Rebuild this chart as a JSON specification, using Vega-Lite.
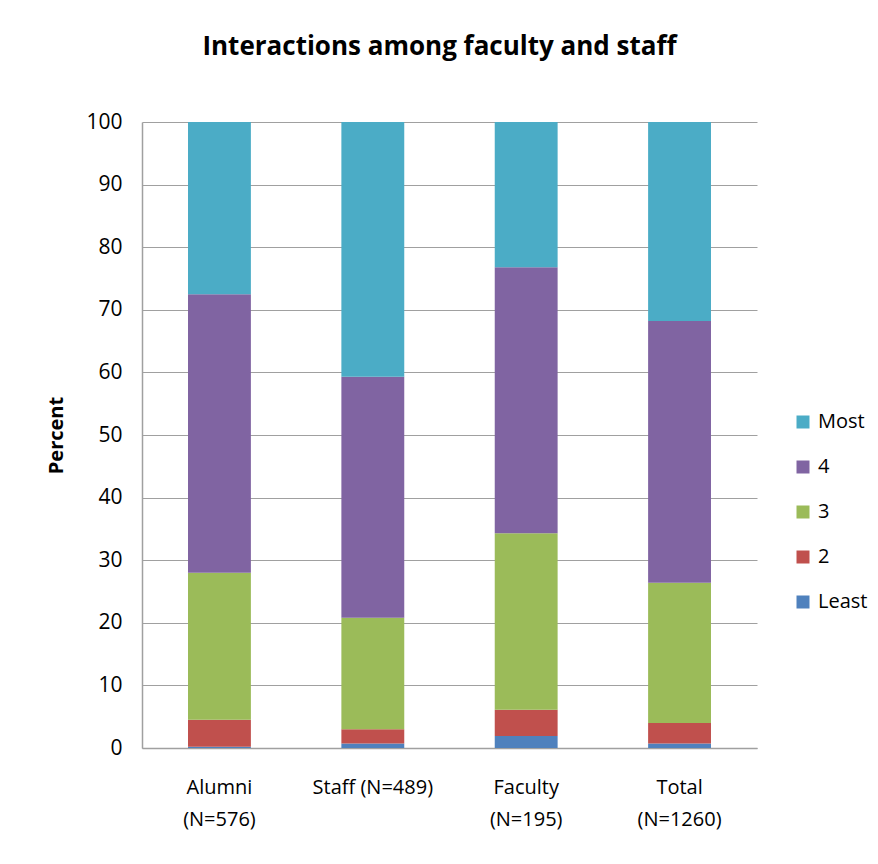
{
  "$schema": "https://vega.github.io/schema/vega-lite/v6.json",
  "autosize": "none",
  "width": 615,
  "height": 626,
  "padding": {"left": 142, "top": 122, "right": 121, "bottom": 116},
  "background": "white",
  "title": {
    "text": "Interactions among faculty and staff",
    "font": "Open Sans",
    "fontSize": 26,
    "fontWeight": "bold",
    "color": "#000000",
    "anchor": "middle",
    "dx": -10,
    "offset": 51
  },
  "data": {
    "values": [
      {"group": "Alumni|(N=576)", "level": "Least", "rank": 1, "percent": 0.2},
      {"group": "Alumni|(N=576)", "level": "2", "rank": 2, "percent": 4.3},
      {"group": "Alumni|(N=576)", "level": "3", "rank": 3, "percent": 23.5},
      {"group": "Alumni|(N=576)", "level": "4", "rank": 4, "percent": 44.5},
      {"group": "Alumni|(N=576)", "level": "Most", "rank": 5, "percent": 27.5},
      {"group": "Staff (N=489)", "level": "Least", "rank": 1, "percent": 0.7},
      {"group": "Staff (N=489)", "level": "2", "rank": 2, "percent": 2.3},
      {"group": "Staff (N=489)", "level": "3", "rank": 3, "percent": 17.8},
      {"group": "Staff (N=489)", "level": "4", "rank": 4, "percent": 38.5},
      {"group": "Staff (N=489)", "level": "Most", "rank": 5, "percent": 40.7},
      {"group": "Faculty|(N=195)", "level": "Least", "rank": 1, "percent": 1.9},
      {"group": "Faculty|(N=195)", "level": "2", "rank": 2, "percent": 4.2},
      {"group": "Faculty|(N=195)", "level": "3", "rank": 3, "percent": 28.2},
      {"group": "Faculty|(N=195)", "level": "4", "rank": 4, "percent": 42.5},
      {"group": "Faculty|(N=195)", "level": "Most", "rank": 5, "percent": 23.2},
      {"group": "Total|(N=1260)", "level": "Least", "rank": 1, "percent": 0.7},
      {"group": "Total|(N=1260)", "level": "2", "rank": 2, "percent": 3.3},
      {"group": "Total|(N=1260)", "level": "3", "rank": 3, "percent": 22.4},
      {"group": "Total|(N=1260)", "level": "4", "rank": 4, "percent": 41.8},
      {"group": "Total|(N=1260)", "level": "Most", "rank": 5, "percent": 31.8}
    ]
  },
  "mark": {"type": "bar"},
  "encoding": {
    "x": {
      "field": "group",
      "type": "nominal",
      "sort": null,
      "scale": {"paddingInner": 0.59, "paddingOuter": 0.3},
      "axis": {
        "title": null,
        "labelAngle": 0,
        "labelExpr": "split(datum.label, '|')",
        "labelFont": "Open Sans",
        "labelFontSize": 20,
        "labelColor": "#000000",
        "labelLineHeight": 32,
        "labelPadding": 29,
        "labelBaseline": "top",
        "ticks": false,
        "domainColor": "#A0A0A0",
        "domainWidth": 1.5,
        "grid": false
      }
    },
    "y": {
      "field": "percent",
      "type": "quantitative",
      "stack": "zero",
      "scale": {"domain": [0, 100], "nice": false},
      "axis": {
        "title": "Percent",
        "titleFont": "Open Sans",
        "titleFontSize": 20,
        "titleFontWeight": "bold",
        "titleColor": "#000000",
        "titlePadding": 19,
        "values": [0, 10, 20, 30, 40, 50, 60, 70, 80, 90, 100],
        "labelFont": "Open Sans",
        "labelFontSize": 21,
        "labelColor": "#000000",
        "labelPadding": 20,
        "ticks": false,
        "domainColor": "#A0A0A0",
        "domainWidth": 1.5,
        "gridColor": "#A0A0A0",
        "gridWidth": 1
      }
    },
    "color": {
      "field": "level",
      "type": "nominal",
      "sort": ["Most", "4", "3", "2", "Least"],
      "scale": {
        "domain": ["Most", "4", "3", "2", "Least"],
        "range": ["#4BACC6", "#8064A2", "#9BBB59", "#C0504D", "#4F81BD"]
      },
      "legend": {
        "title": null,
        "orient": "none",
        "legendX": 651,
        "legendY": 290,
        "symbolType": "square",
        "symbolSize": 169,
        "symbolStrokeWidth": 0,
        "labelFont": "Open Sans",
        "labelFontSize": 20,
        "labelColor": "#000000",
        "labelOffset": 5,
        "rowPadding": 25
      }
    },
    "order": {"field": "rank", "type": "quantitative", "sort": "ascending"}
  },
  "config": {
    "view": {"stroke": null}
  }
}
